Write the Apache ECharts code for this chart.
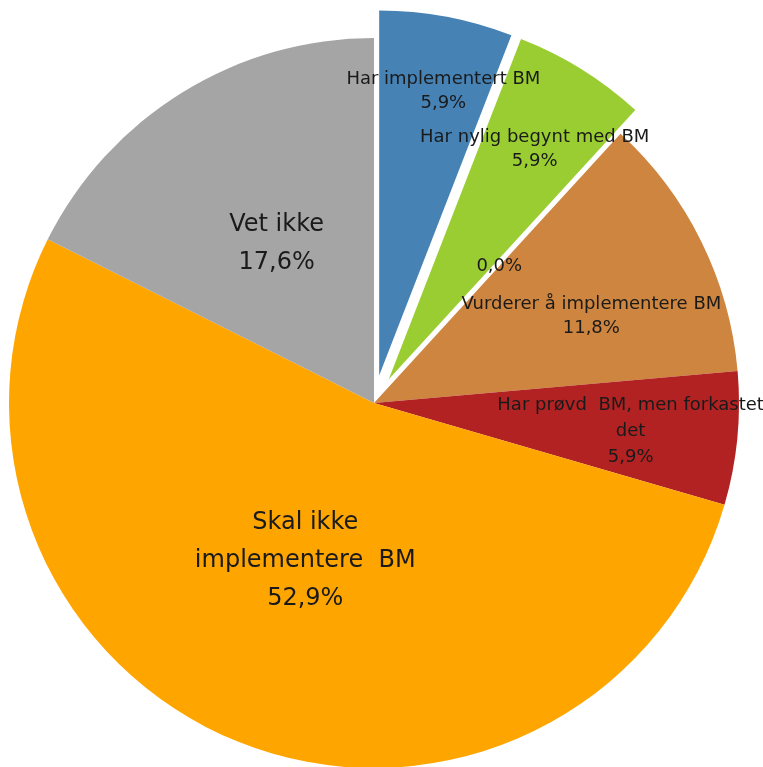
<!DOCTYPE html>
<html>
<head>
<meta charset="utf-8">
<script src="https://cdn.jsdelivr.net/npm/echarts@6/dist/echarts.min.js"></script>
<style>
html,body{margin:0;padding:0;background:#fff;}
#chart{width:763px;height:767px;}
</style>
</head>
<body>
<div id="chart"></div>
<script>
// Data
const categories = ['Har implementert BM', 'Har nylig begynt med BM', '', 'Vurderer å implementere BM', 'Har prøvd  BM, men forkastet\ndet', 'Skal ikke\nimplementere  BM', 'Vet ikke'];
const values = [5.9, 5.9, 0.0, 11.8, 5.9, 52.9, 17.6];

// Styling (not data)
const colors = ['#4682B4', '#9ACD32', '#8FBC8F', '#CD853F', '#B22222', '#FFA500', '#A5A5A5'];
const exploded = [true, true, false, false, false, false, false];
const bigLabel = [false, false, false, false, false, true, true];
const labelShift = [[30, -102], [48, -72], [0, 0], [51, -5], [72, 10], [-1, -15], [0, -1]];

function fmt(v) { return v.toFixed(1).replace('.', ',') + '%'; }

const data = categories.map((name, i) => ({
  name: name,
  value: values[i],
  selected: exploded[i],
  itemStyle: { color: colors[i] },
  label: {
    fontSize: bigLabel[i] ? 24 : 18,
    lineHeight: bigLabel[i] ? 38 : (i === 4 ? 26 : 24)
  }
}));

const chart = echarts.init(document.getElementById('chart'), null, { renderer: 'canvas' });
chart.setOption({
  animation: false,
  backgroundColor: '#ffffff',
  series: [{
    type: 'pie',
    center: [374, 403],
    radius: [0, 365],
    startAngle: 90,
    clockwise: true,
    silent: true,
    selectedMode: 'multiple',
    selectedOffset: 28,
    avoidLabelOverlap: false,
    itemStyle: { borderWidth: 0 },
    label: {
      show: true,
      position: 'inside',
      color: '#1a1a1a',
      fontFamily: 'DejaVu Sans',
      align: 'center',
      formatter: function (p) {
        const v = fmt(p.value);
        return p.name ? p.name + '\n' + v : v;
      }
    },
    labelLine: { show: false },
    labelLayout: function (params) {
      const s = labelShift[params.dataIndex];
      return { dx: s[0], dy: s[1] };
    },
    emphasis: { disabled: true },
    data: data
  }]
});
</script>
</body>
</html>
